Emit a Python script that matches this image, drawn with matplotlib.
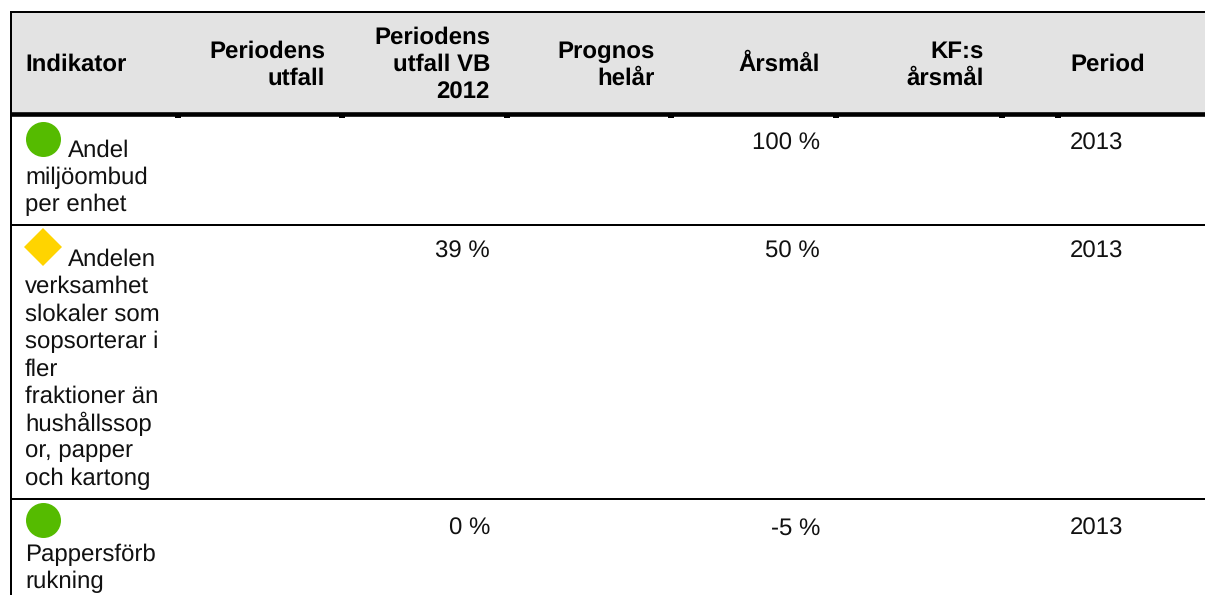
import matplotlib
matplotlib.use("Agg")
import matplotlib.pyplot as plt

plt.rcParams['font.family'] = ['Liberation Sans', 'DejaVu Sans']
plt.rcParams['text.hinting'] = 'no_hinting'

headers = ["Indikator", "Periodens\nutfall", "Periodens\nutfall VB\n2012", "Prognos\nhelår", "Årsmål", "KF:s\nårsmål", "Period"]
header_x = [25, 325, 490, 655, 820, 984, 1070]
header_ha = ["left", "right", "right", "right", "right", "right", "left"]
indicators = [["Andel", "miljöombud", "per enhet"],
              ["Andelen", "verksamhet", "slokaler som", "sopsorterar i", "fler", "fraktioner än", "hushållssop", "or, papper", "och kartong"],
              ["", "Pappersförb", "rukning"]]
utfall = ["", "39 %", "0 %"]
arsmal = ["100 %", "50 %", "-5 %"]
period = ["2013", "2013", "2013"]
status = ["o", "D", "o"]
status_col = ["#55bb00", "#ffd400", "#55bb00"]
row_top = [141, 250, 518]
marker_xy = [(43, 138.5), (43, 246.5), (43, 520)]
tick_x = [178, 342, 507, 671, 836, 1002, 1058]
separators = [225, 499]
px = 100 / 72
fs = 24 / px
lh = 27.4

fig = plt.figure(figsize=(12.05, 5.95), dpi=100)
ax = fig.add_axes([0, 0, 1, 1])
ax.set_xlim(0, 1205)
ax.set_ylim(595, 0)
ax.axis("off")

ax.fill_between([11, 1205], 12, 113, color="#e3e3e3", lw=0, zorder=1)
ax.plot([10, 1205], [12, 12], color="black", lw=2 / px, solid_capstyle="butt", zorder=3)
ax.plot([10, 1205], [114.3, 114.3], color="black", lw=4.6 / px, solid_capstyle="butt", zorder=3)
ax.plot([11, 11], [11, 595], color="black", lw=2 / px, solid_capstyle="butt", zorder=3)
for x in tick_x:
    ax.plot([x, x], [116, 118], color="black", lw=6 / px, solid_capstyle="butt", zorder=3)
for y in separators:
    ax.plot([10, 1205], [y, y], color="black", lw=2 / px, solid_capstyle="butt", zorder=3)

for h, x, ha in zip(headers, header_x, header_ha):
    lines = h.split("\n")
    y0 = 62.5 - (len(lines) - 1) * lh / 2
    for i, line in enumerate(lines):
        ax.text(x, y0 + i * lh, line, ha=ha, va="center_baseline", fontsize=fs, fontweight="bold", color="black", zorder=4)

for r in range(3):
    lines = indicators[r]
    for i, line in enumerate(lines):
        x = 68 if i == 0 and r < 2 else 25
        ax.text(x, row_top[r] + 7 + i * lh, line, ha="left", va="center_baseline", fontsize=fs, color="#111111", zorder=4)
    ms = 35 if status[r] == "o" else 27
    ax.plot(*marker_xy[r], marker=status[r], ms=ms / px, color=status_col[r], mew=0, zorder=4)
    ytxt = [141, 249, 526][r]
    if utfall[r]:
        ax.text(490, ytxt, utfall[r], ha="right", va="center_baseline", fontsize=fs, color="#111111", zorder=4)
    ax.text(820, ytxt, arsmal[r], ha="right", va="center_baseline", fontsize=fs, color="#111111", zorder=4)
    ax.text(1070, ytxt, period[r], ha="left", va="center_baseline", fontsize=fs, color="#111111", zorder=4)

fig.savefig("out.png", dpi=100)
